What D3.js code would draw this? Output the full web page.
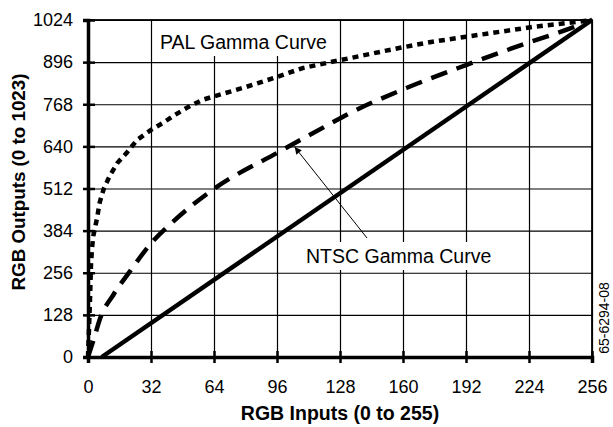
<!DOCTYPE html>
<html>
<head>
<meta charset="utf-8">
<script src="https://cdn.jsdelivr.net/npm/d3@7"></script>
<style>
  body { margin: 0; background: #fff; }
  text { font-family: "Liberation Sans", Arial, sans-serif; fill: #000; }
</style>
</head>
<body>
<div class="chart"></div>
<script>
// tick values
var xTicks = [0, 32, 64, 96, 128, 160, 192, 224, 256];
var yTicks = [0, 128, 256, 384, 512, 640, 768, 896, 1024];

// series: [input, output]
var linearCurve = [[7, 0], [256, 1024]];
var ntscCurve = [[0, 0], [3, 55], [6, 115], [13, 190], [21, 258], [32, 345], [43, 410],
  [64, 511], [96, 620], [120, 699], [133, 741], [162, 818], [192, 887], [224, 956],
  [240, 988], [256, 1024]];
var palCurve = [[0, 0], [0.6, 100], [1, 170], [1.5, 277], [2, 328], [2.7, 368], [4.5, 419],
  [6, 471], [8, 511], [11, 550], [15, 590], [20, 623], [25, 660], [32, 690], [38, 711],
  [44, 735], [51, 760], [58, 781], [64, 792], [80, 820], [96, 851], [109, 878], [124, 897],
  [141, 918], [158, 939], [175, 958], [192, 973], [209, 988], [226, 1003], [248, 1018],
  [256, 1024]];

var svgWidth = 613;
var svgHeight = 427;

var margin = { top: 20, right: 21, bottom: 70, left: 88 };
var width = svgWidth - margin.left - margin.right;
var height = svgHeight - margin.top - margin.bottom;

var svg = d3.select(".chart")
  .append("svg")
  .attr("width", svgWidth)
  .attr("height", svgHeight)
  .style("display", "block");

var chartGroup = svg.append("g")
  .attr("transform", `translate(${margin.left}, ${margin.top})`);

var x = d3.scaleLinear().domain([0, 256]).range([0, width]);
var y = d3.scaleLinear().domain([0, 1024]).range([height, 0]);

// gridlines
chartGroup.append("g")
  .attr("transform", `translate(0, ${height})`)
  .call(d3.axisBottom(x).tickValues(xTicks).tickSize(-height).tickFormat(""))
  .call(g => g.select(".domain").remove())
  .selectAll("line").attr("stroke", "#000").attr("stroke-width", 1.2);

chartGroup.append("g")
  .call(d3.axisLeft(y).tickValues(yTicks).tickSize(-width).tickFormat(""))
  .call(g => g.select(".domain").remove())
  .selectAll("line").attr("stroke", "#000").attr("stroke-width", 1.2);

// label boxes hide the grid behind the text
chartGroup.append("rect")
  .attr("x", 156 - margin.left).attr("y", 1)
  .attr("width", 182).attr("height", 35)
  .attr("fill", "#fff");
chartGroup.append("rect")
  .attr("x", 300 - margin.left).attr("y", 242 - margin.top)
  .attr("width", 200).attr("height", 28)
  .attr("fill", "#fff");

// frame
chartGroup.append("rect")
  .attr("width", width).attr("height", height)
  .attr("fill", "none").attr("stroke", "#000").attr("stroke-width", 1.8);

// axes with tick labels
var bottomAxis = chartGroup.append("g")
  .attr("transform", `translate(0, ${height})`)
  .call(d3.axisBottom(x).tickValues(xTicks).tickSize(6).tickFormat(d3.format("d")));
bottomAxis.select(".domain").attr("stroke-width", 3.5);
bottomAxis.selectAll("line").attr("stroke-width", 2.5).attr("y1", -6);
bottomAxis.selectAll("text")
  .style("font-size", "18px")
  .attr("y", 36).attr("dy", null);

var leftAxis = chartGroup.append("g")
  .call(d3.axisLeft(y).tickValues(yTicks).tickSize(5).tickPadding(10).tickFormat(d3.format("d")));
leftAxis.select(".domain").attr("stroke-width", 3.5);
leftAxis.selectAll("line").attr("stroke-width", 2.5).attr("x1", 7);
leftAxis.selectAll("text").style("font-size", "18px");

// curves
var line = d3.line().x(d => x(d[0])).y(d => y(d[1]));
var lineCurved = d3.line().x(d => x(d[0])).y(d => y(d[1])).curve(d3.curveMonotoneX);

chartGroup.append("path")
  .datum(linearCurve)
  .attr("d", line)
  .attr("fill", "none").attr("stroke", "#000").attr("stroke-width", 4.5);

chartGroup.append("path")
  .datum(ntscCurve)
  .attr("d", lineCurved)
  .attr("fill", "none").attr("stroke", "#000").attr("stroke-width", 4.5)
  .attr("stroke-dasharray", "17,10");

chartGroup.append("path")
  .datum(palCurve)
  .attr("d", line)
  .attr("fill", "none").attr("stroke", "#000").attr("stroke-width", 4.5)
  .attr("stroke-dasharray", "6,5");

// labels
chartGroup.append("text")
  .attr("x", 160 - margin.left).attr("y", 49 - margin.top)
  .style("font-size", "19.5px")
  .text("PAL Gamma Curve");

chartGroup.append("text")
  .attr("x", 306 - margin.left).attr("y", 263 - margin.top)
  .style("font-size", "19.5px")
  .text("NTSC Gamma Curve");

// arrow to the NTSC curve
svg.append("defs").append("marker")
  .attr("id", "arrow")
  .attr("viewBox", "0 0 10 10")
  .attr("refX", 10).attr("refY", 5)
  .attr("markerWidth", 9).attr("markerHeight", 7)
  .attr("markerUnits", "userSpaceOnUse")
  .attr("orient", "auto")
  .append("path").attr("d", "M0,0L10,5L0,10z").attr("fill", "#000");

chartGroup.append("line")
  .attr("x1", 367 - margin.left).attr("y1", 238 - margin.top)
  .attr("x2", x(105)).attr("y2", y(638))
  .attr("stroke", "#000").attr("stroke-width", 1)
  .attr("marker-end", "url(#arrow)");

// axis titles
svg.append("text")
  .attr("x", 340).attr("y", 420)
  .attr("text-anchor", "middle")
  .style("font-size", "19.5px").style("font-weight", "bold")
  .text("RGB Inputs (0 to 255)");

svg.append("text")
  .attr("transform", "translate(25, 182) rotate(-90)")
  .attr("text-anchor", "middle")
  .style("font-size", "18.8px").style("font-weight", "bold")
  .text("RGB Outputs (0 to 1023)");

svg.append("text")
  .attr("transform", "translate(609, 318) rotate(-90)")
  .attr("text-anchor", "middle")
  .style("font-size", "14px")
  .text("65-6294-08");
</script>
</body>
</html>
